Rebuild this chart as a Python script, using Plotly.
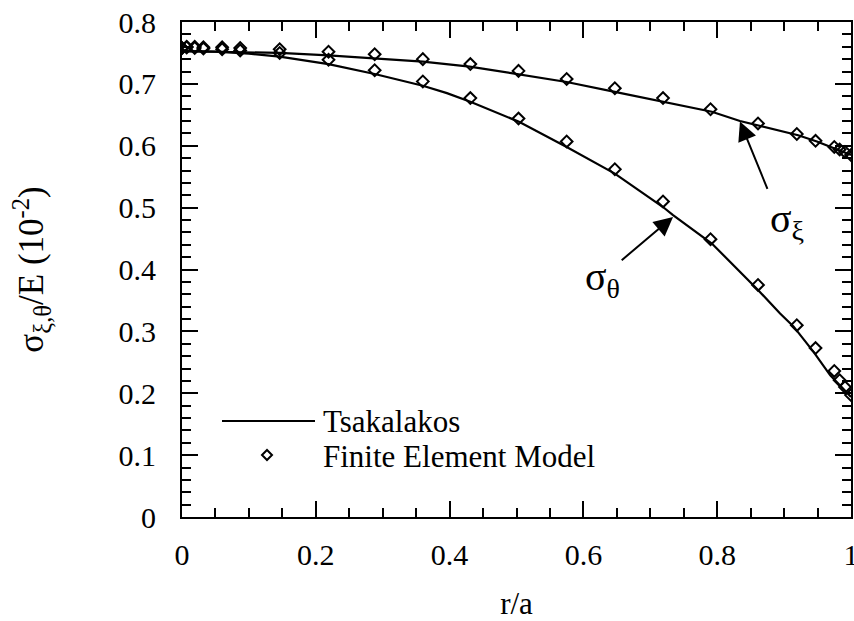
import plotly.graph_objects as go

# ---- data ----
r_fe = [0, 0.007, 0.019, 0.032, 0.06, 0.087, 0.146, 0.219, 0.288, 0.360, 0.431,
        0.503, 0.575, 0.647, 0.719, 0.790, 0.861, 0.919, 0.947, 0.975, 0.983,
        0.991, 1.0]
sxi_fe = [0.758, 0.760, 0.760, 0.759, 0.759, 0.758, 0.756, 0.752, 0.748, 0.740,
          0.732, 0.721, 0.708, 0.693, 0.677, 0.659, 0.636, 0.619, 0.608, 0.598,
          0.594, 0.590, 0.585]
sth_fe = [0.758, 0.759, 0.758, 0.757, 0.756, 0.754, 0.750, 0.739, 0.722, 0.704,
          0.677, 0.644, 0.607, 0.562, 0.510, 0.449, 0.375, 0.310, 0.273, 0.236,
          0.221, 0.210, 0.197]

r_th_xi = [0, 0.05, 0.1, 0.146, 0.219, 0.288, 0.36, 0.43, 0.503, 0.575, 0.647,
           0.719, 0.792, 0.834, 0.861, 0.921, 0.949, 1.0]
sxi_th = [0.753, 0.752, 0.751, 0.750, 0.746, 0.741, 0.736, 0.728, 0.716, 0.703,
          0.687, 0.671, 0.655, 0.640, 0.633, 0.617, 0.607, 0.585]

r_th_th = [0, 0.05, 0.1, 0.146, 0.219, 0.288, 0.36, 0.396, 0.431, 0.503, 0.575,
           0.647, 0.719, 0.734, 0.792, 0.861, 0.894, 0.914, 0.944, 0.969, 1.0]
sth_th = [0.753, 0.752, 0.749, 0.744, 0.732, 0.716, 0.697, 0.685, 0.671, 0.639,
          0.598, 0.555, 0.501, 0.488, 0.442, 0.367, 0.329, 0.308, 0.267, 0.229,
          0.194]

x_ticks = [0, 0.2, 0.4, 0.6, 0.8, 1]
x_ticklabels = ["0", "0.2", "0.4", "0.6", "0.8", "1"]
y_ticks = [0, 0.1, 0.2, 0.3, 0.4, 0.5, 0.6, 0.7, 0.8]
y_ticklabels = ["0", "0.1", "0.2", "0.3", "0.4", "0.5", "0.6", "0.7", "0.8"]

FONT = "Liberation Serif, Times New Roman, serif"

fig = go.Figure()
for rr, vv in [(r_th_xi, sxi_th), (r_th_th, sth_th)]:
    fig.add_trace(go.Scatter(x=rr, y=vv, mode="lines",
                             line=dict(color="black", width=2.2),
                             showlegend=False, hoverinfo="skip"))
for vv in [sxi_fe, sth_fe]:
    fig.add_trace(go.Scatter(x=r_fe, y=vv, mode="markers",
                             marker=dict(symbol="diamond-open", size=9,
                                         color="black", line=dict(width=2)),
                             showlegend=False, hoverinfo="skip"))

axis_common = dict(showline=True, linewidth=2, linecolor="black", mirror="allticks",
                   ticks="inside", ticklen=16, tickwidth=2, tickcolor="black",
                   showgrid=False, zeroline=False, automargin=False,
                   ticklabeloverflow="allow",
                   tickfont=dict(family=FONT, size=30, color="black"))

fig.update_xaxes(range=[0, 1], tickvals=x_ticks, ticktext=x_ticklabels,
                 minor=dict(ticks="inside", ticklen=9, tickwidth=1.5,
                            dtick=0.05, tick0=0, tickcolor="black", showgrid=False),
                 ticklabelstandoff=10,
                 title=dict(text="r/a", font=dict(family=FONT, size=31, color="black"),
                            standoff=22),
                 **axis_common)
fig.update_yaxes(range=[0, 0.8], tickvals=y_ticks, ticktext=y_ticklabels,
                 minor=dict(ticks="inside", ticklen=9, tickwidth=1.5,
                            dtick=0.02, tick0=0, tickcolor="black", showgrid=False),
                 ticklabelstandoff=18,
                 title=dict(text="σ<sub>ξ,θ</sub>/E (10<sup>-2</sup>)",
                            font=dict(family=FONT, size=35, color="black"),
                            standoff=64),
                 **axis_common)

annots = []
# arrows
annots.append(dict(x=0.834, y=0.639, ax=0.876, ay=0.528, xref="x", yref="y",
                   axref="x", ayref="y", showarrow=True, arrowhead=2, arrowsize=1.9,
                   arrowwidth=2, arrowcolor="black", text=""))
annots.append(dict(x=0.734, y=0.485, ax=0.655, ay=0.413, xref="x", yref="y",
                   axref="x", ayref="y", showarrow=True, arrowhead=2, arrowsize=1.9,
                   arrowwidth=2, arrowcolor="black", text=""))
annots.append(dict(x=0.905, y=0.478, xref="x", yref="y", showarrow=False,
                   text="σ<sub>ξ</sub>", xanchor="center", yanchor="middle",
                   font=dict(family=FONT, size=40, color="black")))
annots.append(dict(x=0.628, y=0.385, xref="x", yref="y", showarrow=False,
                   text="σ<sub>θ</sub>", xanchor="center", yanchor="middle",
                   font=dict(family=FONT, size=40, color="black")))

# manual legend (positions relative to the plot area)
def px(x):
    return (x - 182) / 669.0

def py(y):
    return (517 - y) / 495.0

annots.append(dict(x=px(321), y=py(421), xref="paper", yref="paper", showarrow=False,
                   text="Tsakalakos", xanchor="left", yanchor="middle",
                   font=dict(family=FONT, size=31, color="black")))
annots.append(dict(x=px(321), y=py(456), xref="paper", yref="paper", showarrow=False,
                   text="Finite Element Model", xanchor="left", yanchor="middle",
                   font=dict(family=FONT, size=31, color="black")))

shapes = [
    dict(type="line", xref="paper", yref="paper", x0=px(222), x1=px(315),
         y0=py(421), y1=py(421), line=dict(color="black", width=2)),
]
cx, cy, d = 267, 455, 5
shapes.append(dict(type="path", xref="paper", yref="paper",
                   path=f"M {px(cx-d)},{py(cy)} L {px(cx)},{py(cy-d)} L {px(cx+d)},{py(cy)} L {px(cx)},{py(cy+d)} Z",
                   line=dict(color="black", width=2)))

fig.update_layout(width=854, height=621,
                  margin=dict(l=182, r=3, t=22, b=104, autoexpand=False),
                  plot_bgcolor="white", paper_bgcolor="white",
                  annotations=annots, shapes=shapes,
                  font=dict(family=FONT, color="black"))

fig.write_html("out.html", config={"displayModeBar": False},
               post_script="document.body.style.margin='0';document.body.style.overflow='hidden';")
